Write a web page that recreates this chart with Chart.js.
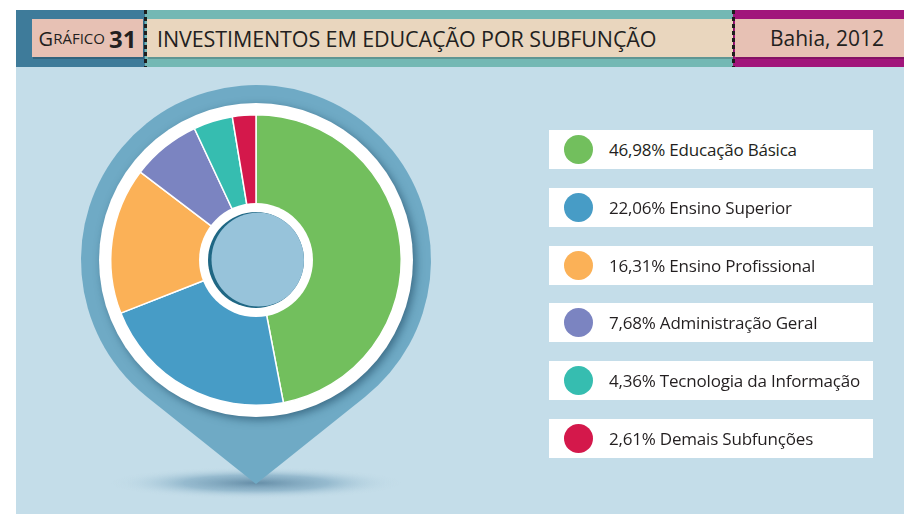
<!DOCTYPE html>
<html lang="pt">
<head>
<meta charset="utf-8">
<title>Investimentos em educação por subfunção</title>
<script src="https://cdn.jsdelivr.net/npm/chart.js@4"></script>
<style>
  html, body { margin: 0; padding: 0; background: #fff; }
  body { width: 904px; height: 515px; position: relative; overflow: hidden; font-family: 'Open Sans', sans-serif; color: #231f20; }
  .abs { position: absolute; }
  #panel { left: 16px; top: 67px; width: 888px; height: 447px; background: #c4dde9; }
  #chart { left: 0; top: 0; }
  .band { top: 10px; height: 57px; }
  .dash { top: 10px; width: 3px; height: 57px; background: repeating-linear-gradient(to bottom, #1e1e1e 0 4px, transparent 4px 7px); }
  .box { top: 19px; height: 38px; display: flex; align-items: center; box-shadow: 1px 2px 0 rgba(0,0,0,0.18); }
  #num { left: 32px; width: 111px; background: #e7c1b4; justify-content: center; }
  #num .g { font-size: 20px; }
  #num .s { font-size: 15px; }
  #num b { font-size: 24px; margin-left: 4px; font-weight: 700; }
  #title { left: 147px; width: 586px; background: #e9d6be; font-size: 21.5px; padding-left: 10px; box-sizing: border-box; letter-spacing: -0.1px; }
  #place { left: 735px; width: 169px; background: #e7c1b4; font-size: 21px; padding-left: 35px; box-sizing: border-box; }
  .item { left: 549px; width: 324px; height: 39px; background: #fff; }
  .item i { position: absolute; left: 15px; top: 5px; width: 29px; height: 29px; border-radius: 50%; }
  .item span { position: absolute; left: 60px; top: 0; line-height: 39px; font-size: 17px; letter-spacing: -0.2px; white-space: nowrap; }
</style>
</head>
<body>
<div id="panel" class="abs"></div>
<canvas id="chart" class="abs" width="904" height="515"></canvas>

<div class="abs band" style="left:16px;width:129px;background:#3e7b9a"></div>
<div class="abs band" style="left:145px;width:588px;background:#74b8b4"></div>
<div class="abs band" style="left:733px;width:171px;background:#a1157b"></div>
<div id="num" class="abs box"><span class="g">G</span><span class="s">RÁFICO</span><b>31</b></div>
<div id="title" class="abs box">INVESTIMENTOS EM EDUCAÇÃO POR SUBFUNÇÃO</div>
<div id="place" class="abs box">Bahia, 2012</div>
<div class="abs dash" style="left:144px"></div>
<div class="abs dash" style="left:732px"></div>

<div id="legend"></div>

<script>
const labels = ['Educação Básica', 'Ensino Superior', 'Ensino Profissional', 'Administração Geral', 'Tecnologia da Informação', 'Demais Subfunções'];
const shares = [46.98, 22.06, 16.31, 7.68, 4.36, 2.61];
const colors = ['#72bf5d', '#479cc6', '#fbb157', '#7b84c1', '#36bdb0', '#d4184b'];

function pct(v) {
    return v.toFixed(2).replace('.', ',') + '%';
}

// legend boxes on the right
const legend = document.getElementById('legend');
labels.forEach(function (name, i) {
    const row = document.createElement('div');
    row.className = 'abs item';
    row.style.top = (130 + i * 57.8) + 'px';
    row.innerHTML = '<i style="background:' + colors[i] + '"></i><span>' + pct(shares[i]) + ' ' + name + '</span>';
    legend.appendChild(row);
});

// map pin behind the doughnut, white rim and the centre disc
const pinPlugin = {
    id: 'pin',
    beforeDatasetsDraw(chart) {
        const meta = chart.getDatasetMeta(0).data[0];
        const cx = meta.x, cy = meta.y;
        const ctx = chart.ctx;
        ctx.save();

        // soft shadow under the tip
        const tipY = cy + 224;
        ctx.save();
        ctx.translate(cx, tipY - 1);
        ctx.scale(1, 0.11);
        const g = ctx.createRadialGradient(0, 0, 0, 0, 0, 145);
        g.addColorStop(0, 'rgba(70,115,145,0.75)');
        g.addColorStop(0.5, 'rgba(95,145,175,0.45)');
        g.addColorStop(1, 'rgba(196,221,233,0)');
        ctx.fillStyle = g;
        ctx.beginPath();
        ctx.arc(0, 0, 145, 0, Math.PI * 2);
        ctx.fill();
        ctx.restore();

        // pin body: circle plus tangent lines down to the tip
        const R = 175;
        const d = tipY - cy;
        const a = Math.acos(R / d);
        ctx.fillStyle = '#6faac5';
        ctx.beginPath();
        ctx.moveTo(cx, tipY);
        ctx.arc(cx, cy, R, Math.PI / 2 - a, Math.PI / 2 + a, true);
        ctx.closePath();
        ctx.fill();

        // white rim with a drop shadow
        ctx.shadowColor = 'rgba(20,60,85,0.55)';
        ctx.shadowBlur = 8;
        ctx.shadowOffsetX = 3;
        ctx.shadowOffsetY = 3;
        ctx.fillStyle = '#ffffff';
        ctx.beginPath();
        ctx.arc(cx, cy, 157, 0, Math.PI * 2);
        ctx.fill();
        ctx.restore();
    },
    afterDatasetsDraw(chart) {
        const meta = chart.getDatasetMeta(0).data[0];
        const cx = meta.x, cy = meta.y;
        const ctx = chart.ctx;
        ctx.save();
        ctx.fillStyle = '#ffffff';
        ctx.beginPath();
        ctx.arc(cx, cy, 57, 0, Math.PI * 2);
        ctx.fill();

        ctx.fillStyle = '#1f6784';
        ctx.beginPath();
        ctx.arc(cx, cy, 48, 0, Math.PI * 2);
        ctx.fill();
        ctx.clip();
        ctx.fillStyle = '#97c3da';
        ctx.beginPath();
        ctx.arc(cx + 2.5, cy - 0.5, 47, 0, Math.PI * 2);
        ctx.fill();
        ctx.restore();
    }
};

new Chart(document.getElementById('chart'), {
    type: 'doughnut',
    data: {
        labels: labels,
        datasets: [{
            data: shares,
            backgroundColor: colors,
            borderColor: '#ffffff',
            borderWidth: 1.5
        }]
    },
    options: {
        responsive: false,
        animation: false,
        cutout: '38%',
        layout: {
            padding: { left: 110, right: 502, top: 114, bottom: 109 }
        },
        plugins: {
            legend: { display: false },
            tooltip: { enabled: false }
        }
    },
    plugins: [pinPlugin]
});
</script>
</body>
</html>
